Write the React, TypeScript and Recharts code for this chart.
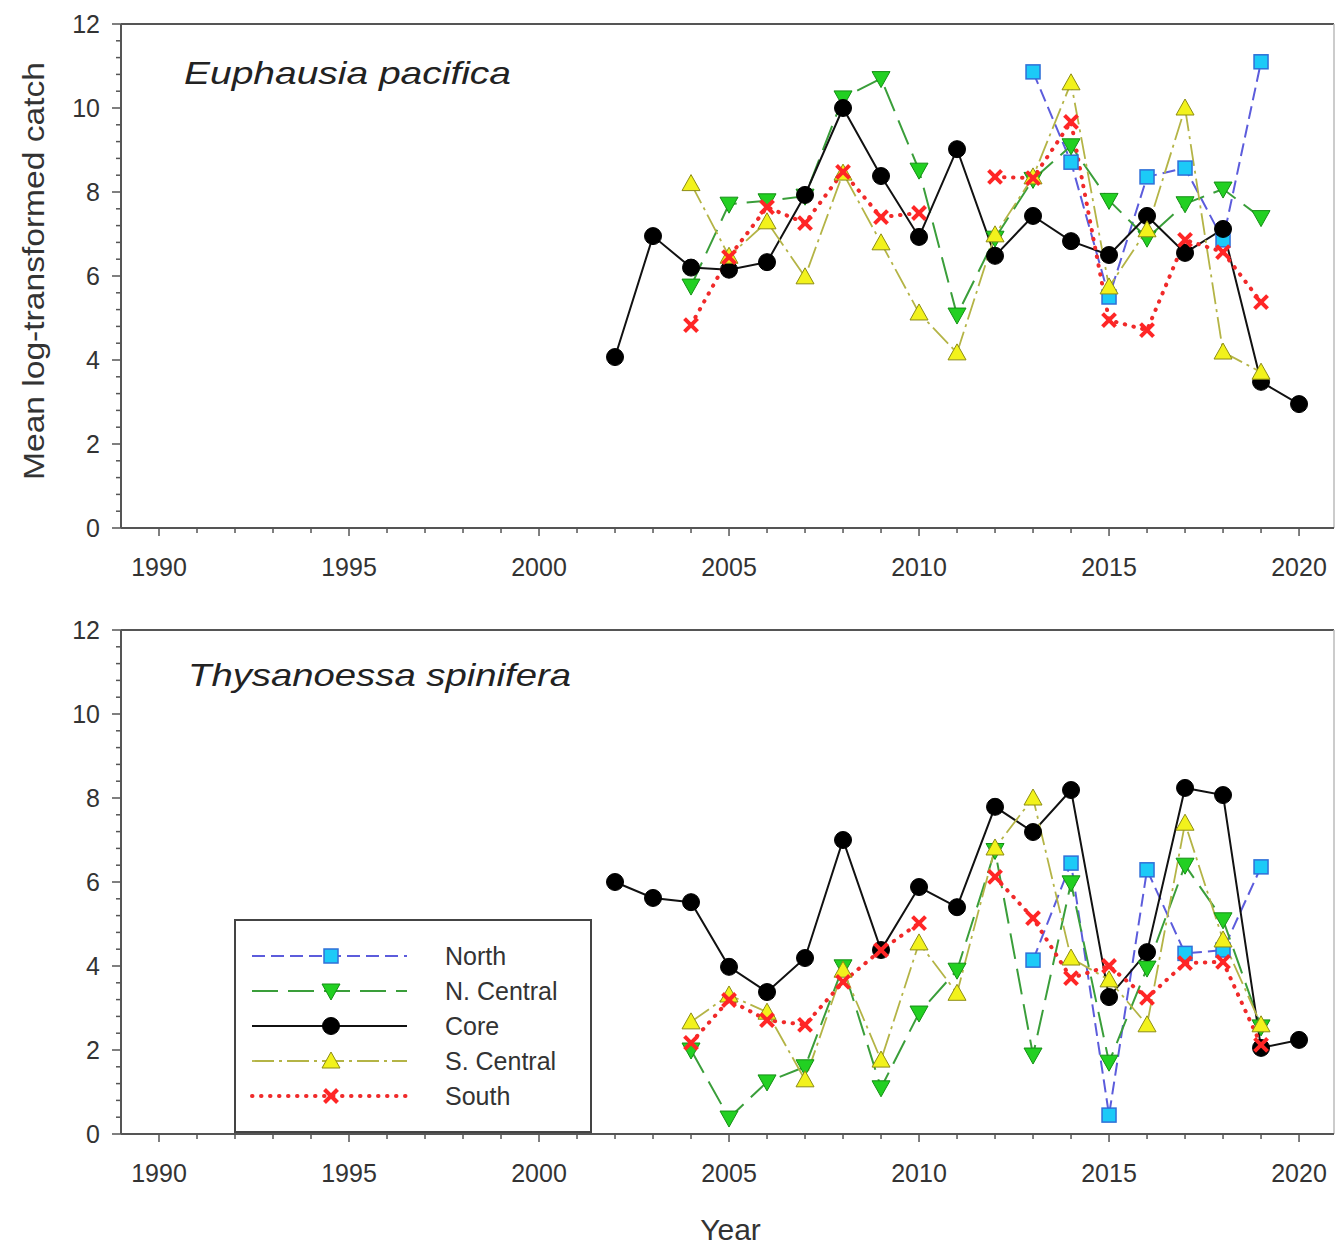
import React from 'react';
import { LineChart, Line, XAxis, YAxis, ReferenceLine, Legend, Customized } from 'recharts';

// ---------- data ----------
const YEARS = [2002, 2003, 2004, 2005, 2006, 2007, 2008, 2009, 2010, 2011, 2012, 2013, 2014, 2015, 2016, 2017, 2018, 2019, 2020];

// Euphausia pacifica
const EP_NORTH = [null, null, null, null, null, null, null, null, null, null, null, 10.86, 8.71, 5.5, 8.36, 8.57, 6.86, 11.1, null];
const EP_NCENTRAL = [null, null, 5.76, 7.71, 7.79, 7.9, 10.24, 10.7, 8.52, 5.07, 6.9, 8.3, 9.1, 7.8, 6.9, 7.72, 8.07, 7.39, null];
const EP_CORE = [4.07, 6.95, 6.2, 6.15, 6.33, 7.93, 10.0, 8.38, 6.93, 9.02, 6.48, 7.43, 6.83, 6.5, 7.43, 6.55, 7.12, 3.48, 2.95];
const EP_SCENTRAL = [null, null, 8.2, 6.47, 7.29, 5.98, 8.45, 6.79, 5.12, 4.17, 6.98, 8.36, 10.6, 5.74, 7.1, 10.0, 4.19, 3.71, null];
const EP_SOUTH = [null, null, 4.83, 6.45, 7.64, 7.26, 8.48, 7.4, 7.5, null, 8.36, 8.33, 9.67, 4.95, 4.71, 6.86, 6.57, 5.38, null];

// Thysanoessa spinifera
const TS_NORTH = [null, null, null, null, null, null, null, null, null, null, null, 4.14, 6.45, 0.45, 6.29, 4.3, 4.38, 6.36, null];
const TS_NCENTRAL = [null, null, 2.0, 0.38, 1.24, 1.6, 3.98, 1.1, 2.88, 3.9, 6.75, 1.88, 5.98, 1.71, 3.95, 6.4, 5.1, 2.55, null];
const TS_CORE = [6.0, 5.62, 5.52, 3.98, 3.38, 4.19, 7.0, 4.38, 5.88, 5.4, 7.79, 7.19, 8.19, 3.26, 4.33, 8.24, 8.07, 2.05, 2.24];
const TS_SCENTRAL = [null, null, 2.67, 3.31, 2.9, 1.29, 3.9, 1.76, 4.55, 3.35, 6.81, 8.0, 4.19, 3.67, 2.6, 7.4, 4.62, 2.6, null];
const TS_SOUTH = [null, null, 2.17, 3.19, 2.71, 2.6, 3.62, 4.38, 5.02, null, 6.12, 5.14, 3.71, 4.0, 3.24, 4.07, 4.1, 2.12, null];

const SERIES_NAMES = ['North', 'N. Central', 'Core', 'S. Central', 'South'];
const X_TICKS = [1990, 1991, 1992, 1993, 1994, 1995, 1996, 1997, 1998, 1999, 2000, 2001, 2002, 2003, 2004, 2005, 2006, 2007, 2008, 2009, 2010, 2011, 2012, 2013, 2014, 2015, 2016, 2017, 2018, 2019, 2020];
const X_DOMAIN = [1989, 2020.92];
const Y_MAJOR = [0, 2, 4, 6, 8, 10, 12];
const Y_TICKS = [0, 0.4, 0.8, 1.2, 1.6, 2, 2.4, 2.8, 3.2, 3.6, 4, 4.4, 4.8, 5.2, 5.6, 6, 6.4, 6.8, 7.2, 7.6, 8, 8.4, 8.8, 9.2, 9.6, 10, 10.4, 10.8, 11.2, 11.6, 12];

const buildRows = (north, nc, core, sc, south) =>
  YEARS.map((year, i) => ({ year, north: north[i], nc: nc[i], core: core[i], sc: sc[i], south: south[i] }));

const EP_ROWS = buildRows(EP_NORTH, EP_NCENTRAL, EP_CORE, EP_SCENTRAL, EP_SOUTH);
const TS_ROWS = buildRows(TS_NORTH, TS_NCENTRAL, TS_CORE, TS_SCENTRAL, TS_SOUTH);

// ---------- styles ----------
const FONT = '"Liberation Sans", Arial, Helvetica, sans-serif';
const TEXT_COLOR = '#333';
const AXIS_COLOR = '#555';
const PLOT_LEFT = 121;
const PLOT_BOTTOM = 528;

const STYLES = {
  north: { stroke: '#5c5cdc', dash: '13 6', width: 2, marker: 'square', cap: 'butt' },
  nc: { stroke: '#3a9e3a', dash: '26 10', width: 2, marker: 'down', cap: 'butt' },
  core: { stroke: '#111', dash: undefined, width: 2, marker: 'circle', cap: 'butt' },
  sc: { stroke: '#b4b446', dash: '22 5 3 5', width: 1.8, marker: 'up', cap: 'butt' },
  south: { stroke: '#f02a2a', dash: '0.5 8.5', width: 4, marker: 'x', cap: 'round' },
};
const KEYS = ['north', 'nc', 'core', 'sc', 'south'];

const Marker = ({ kind, x, y }) => {
  switch (kind) {
    case 'square':
      return <rect x={x - 7} y={y - 7} width={14} height={14} fill="#1ccaf7" stroke="#2f6fd8" strokeWidth={1.5} />;
    case 'down':
      return <polygon points={`${x - 9},${y - 7} ${x + 9},${y - 7} ${x},${y + 9}`} fill="#22d022" stroke="#148f14" strokeWidth={1} />;
    case 'circle':
      return <circle cx={x} cy={y} r={8.5} fill="#000" stroke="#000" />;
    case 'up':
      return <polygon points={`${x - 9},${y + 7} ${x + 9},${y + 7} ${x},${y - 9}`} fill="#f2f21c" stroke="#8c8c14" strokeWidth={1} />;
    case 'x':
      return (
        <g stroke="#ff2626" strokeWidth={4}>
          <line x1={x - 6.5} y1={y - 6.5} x2={x + 6.5} y2={y + 6.5} />
          <line x1={x - 6.5} y1={y + 6.5} x2={x + 6.5} y2={y - 6.5} />
        </g>
      );
    default:
      return null;
  }
};

const makeDot = (kind) => (props) => {
  const { cx, cy, value, index } = props;
  if (value == null || cx == null || cy == null || Number.isNaN(cy)) return <g key={`e${index}`} />;
  return (
    <g key={`d${index}`}>
      <Marker kind={kind} x={cx} y={cy} />
    </g>
  );
};

const XTick = (props) => {
  const { x, payload } = props;
  const v = payload.value;
  const major = v % 5 === 0;
  return (
    <g>
      <line x1={x} y1={PLOT_BOTTOM} x2={x} y2={PLOT_BOTTOM + (major ? 8 : 5)} stroke={AXIS_COLOR} strokeWidth={1.5} />
      {major && (
        <text x={x} y={PLOT_BOTTOM + 48} textAnchor="middle" fontSize={25} fontFamily={FONT} fill={TEXT_COLOR}>
          {v}
        </text>
      )}
    </g>
  );
};

const YTick = (props) => {
  const { y, payload } = props;
  const v = payload.value;
  const major = Y_MAJOR.some((m) => Math.abs(m - v) < 1e-6);
  return (
    <g>
      <line x1={PLOT_LEFT - (major ? 9 : 5)} y1={y} x2={PLOT_LEFT} y2={y} stroke={AXIS_COLOR} strokeWidth={1.5} />
      {major && (
        <text x={100} y={y} dy="0.36em" textAnchor="end" fontSize={25} fontFamily={FONT} fill={TEXT_COLOR}>
          {Math.round(v)}
        </text>
      )}
    </g>
  );
};

const LegendBox = () => (
  <svg width={360} height={216} style={{ display: 'block' }}>
    <rect x={1} y={1} width={356} height={212} fill="#fff" stroke="#444" strokeWidth={2} />
    {KEYS.map((k, i) => {
      const s = STYLES[k];
      const cy = 37 + i * 35;
      return (
        <g key={k}>
          <line x1={18} y1={cy} x2={173} y2={cy} stroke={s.stroke} strokeWidth={s.width} strokeDasharray={s.dash} strokeLinecap={s.cap} />
          <Marker kind={s.marker} x={97} y={cy} />
          <text x={211} y={cy} dy="0.36em" fontSize={25} fontFamily={FONT} fill={TEXT_COLOR}>
            {SERIES_NAMES[i]}
          </text>
        </g>
      );
    })}
  </svg>
);

const Panel = ({ rows, height, title, titleWidth, titleBaseline, showYLabel, showXLabel, showLegend }) => (
  <LineChart width={1336} height={height} data={rows} margin={{ top: 24, right: 2, bottom: 0, left: 0 }}>
    <XAxis
      dataKey="year"
      type="number"
      domain={X_DOMAIN}
      allowDataOverflow
      ticks={X_TICKS}
      interval={0}
      tickLine={false}
      tick={<XTick />}
      axisLine={{ stroke: AXIS_COLOR, strokeWidth: 2 }}
      height={height - PLOT_BOTTOM}
      label={
        showXLabel
          ? {
              content: (p) => {
                const vb = p.viewBox || { x: PLOT_LEFT, y: PLOT_BOTTOM, width: 1213 };
                return (
                  <text x={vb.x + vb.width / 2 + 3} y={PLOT_BOTTOM + 106} textAnchor="middle" fontSize={30} fontFamily={FONT} fill={TEXT_COLOR}>
                    Year
                  </text>
                );
              },
            }
          : undefined
      }
    />
    <YAxis
      type="number"
      domain={[0, 12]}
      ticks={Y_TICKS}
      interval={0}
      tickLine={false}
      tick={<YTick />}
      width={PLOT_LEFT}
      axisLine={{ stroke: AXIS_COLOR, strokeWidth: 2 }}
      label={
        showYLabel
          ? {
              content: (p) => {
                const vb = p.viewBox || { x: 0, y: 24, width: 121, height: 504 };
                const cx = 33;
                const cy = vb.y + vb.height / 2 - 5;
                return (
                  <text
                    x={cx}
                    y={cy}
                    transform={`rotate(-90 ${cx} ${cy})`}
                    textAnchor="middle"
                    dy="0.36em"
                    fontSize={30}
                    fontFamily={FONT}
                    fill={TEXT_COLOR}
                    textLength={418}
                    lengthAdjust="spacingAndGlyphs"
                  >
                    Mean log-transformed catch
                  </text>
                );
              },
            }
          : undefined
      }
    />
    <ReferenceLine y={12} stroke={AXIS_COLOR} strokeWidth={2} />
    <ReferenceLine x={X_DOMAIN[1]} stroke="#bbb" strokeWidth={1.5} />
    {KEYS.map((k, i) => {
      const s = STYLES[k];
      return (
        <Line
          key={k}
          dataKey={k}
          name={SERIES_NAMES[i]}
          type="linear"
          stroke={s.stroke}
          strokeWidth={s.width}
          strokeDasharray={s.dash}
          strokeLinecap={s.cap}
          connectNulls={false}
          isAnimationActive={false}
          dot={makeDot(s.marker)}
          activeDot={false}
        />
      );
    })}
    <Customized
      component={() => (
        <text
          x={titleWidth[0]}
          y={titleBaseline}
          fontSize={32}
          fontStyle="italic"
          fontFamily={FONT}
          fill="#222"
          textLength={titleWidth[1]}
          lengthAdjust="spacingAndGlyphs"
        >
          {title}
        </text>
      )}
    />
    {showLegend && (
      <Legend
        layout="vertical"
        verticalAlign="middle"
        align="center"
        wrapperStyle={{ left: 234, top: 313, width: 360, height: 216 }}
        content={() => <LegendBox />}
      />
    )}
  </LineChart>
);

export default function App() {
  return (
    <div style={{ position: 'absolute', left: 0, top: 0, width: 1336, height: 1247, background: '#fff', fontFamily: FONT }}>
      <div style={{ position: 'absolute', left: 0, top: 0 }}>
        <Panel
          rows={EP_ROWS}
          height={606}
          title="Euphausia pacifica"
          titleWidth={[184, 327]}
          titleBaseline={84}
          showYLabel
          showXLabel={false}
          showLegend={false}
        />
      </div>
      <div style={{ position: 'absolute', left: 0, top: 606 }}>
        <Panel
          rows={TS_ROWS}
          height={641}
          title="Thysanoessa spinifera"
          titleWidth={[188, 383]}
          titleBaseline={80}
          showYLabel={false}
          showXLabel
          showLegend
        />
      </div>
    </div>
  );
}
